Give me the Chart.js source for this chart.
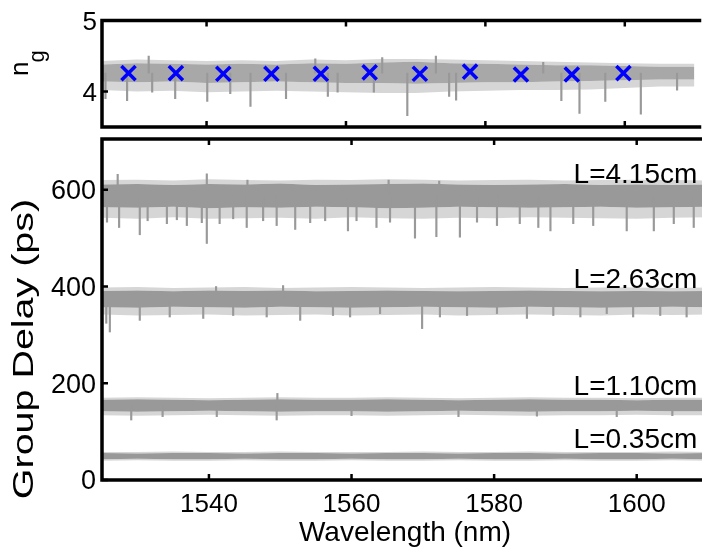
<!DOCTYPE html>
<html>
<head>
<meta charset="utf-8">
<script src="https://cdn.jsdelivr.net/npm/chart.js@4.4.1/dist/chart.umd.min.js"></script>
<style>
  body { margin: 0; width: 702px; height: 550px; overflow: hidden; background: #fff; }
  canvas { position: absolute; left: 0; top: 0; }
</style>
</head>
<body>
<canvas id="ngChart" width="708" height="550"></canvas>
<canvas id="delayChart" width="708" height="550"></canvas>
<script>
// sample wavelengths (nm) for the envelope of each noisy trace
const wavelength = [1525, 1530, 1535, 1540, 1545, 1550, 1555, 1560, 1565, 1570, 1575, 1580, 1585, 1590, 1595, 1600, 1605, 1610];
const xTicks = [1540, 1560, 1580, 1600];
const ngTicks = [4, 5];
const delayTicks = [0, 200, 400, 600];

// group index panel
const ngHigh   = [4.43, 4.45, 4.44, 4.43, 4.44, 4.43, 4.45, 4.44, 4.46, 4.46, 4.45, 4.44, 4.43, 4.42, 4.41, 4.40, 4.39, 4.39];
const ngTop    = [4.38, 4.40, 4.39, 4.38, 4.39, 4.38, 4.40, 4.39, 4.41, 4.42, 4.40, 4.39, 4.38, 4.37, 4.37, 4.36, 4.35, 4.35];
const ngBottom = [4.14, 4.13, 4.14, 4.12, 4.13, 4.14, 4.13, 4.12, 4.12, 4.11, 4.12, 4.13, 4.13, 4.14, 4.15, 4.16, 4.17, 4.17];
const ngLow    = [4.02, 4.00, 4.01, 3.99, 4.00, 4.01, 4.00, 3.99, 3.98, 3.98, 4.00, 4.01, 4.02, 4.02, 4.03, 4.05, 4.07, 4.07];
const ngSpikeWl  = [1525.5, 1528.6, 1531.7, 1532.2, 1535.5, 1540.1, 1543.4, 1546.3, 1551.4, 1555.6, 1557.4, 1558.8, 1564.0, 1565.2, 1568.8, 1572.9, 1574.8, 1575.8, 1588.3, 1590.9, 1593.5, 1597.2, 1602.3, 1607.5];
const ngSpikeTip = [3.90, 3.87, 4.50, 3.99, 3.90, 3.86, 3.97, 3.79, 3.90, 4.46, 3.93, 3.99, 3.99, 4.48, 3.66, 4.50, 3.93, 3.88, 4.41, 3.87, 3.69, 3.86, 3.68, 4.02];
const markerWl = [1528.8, 1535.6, 1542.4, 1549.3, 1556.4, 1563.4, 1570.6, 1577.8, 1585.1, 1592.4, 1599.8];
const markerNg = [4.26, 4.26, 4.25, 4.25, 4.25, 4.27, 4.25, 4.28, 4.24, 4.24, 4.26];

// group delay (ps), one envelope per waveguide length
const d415High   = [620, 621, 619, 622, 620, 619, 621, 620, 622, 621, 619, 620, 621, 619, 620, 621, 620, 619];
const d415Top    = [611, 612, 610, 612, 611, 613, 610, 611, 612, 613, 611, 610, 611, 612, 610, 611, 610, 611];
const d415Bottom = [564, 563, 565, 562, 564, 563, 565, 564, 562, 563, 565, 564, 563, 564, 565, 563, 564, 565];
const d415Low    = [542, 540, 543, 540, 541, 542, 540, 543, 541, 540, 542, 541, 543, 542, 541, 540, 542, 543];
const d415SpikeWl  = [1525.7, 1527.2, 1527.4, 1530.3, 1531.4, 1534.1, 1535.5, 1536.9, 1539.0, 1539.7, 1539.7, 1541.5, 1543.4, 1545.3, 1545.4, 1547.6, 1549.5, 1552.1, 1554.2, 1556.3, 1559.5, 1560.7, 1563.5, 1565.2, 1565.4, 1568.9, 1571.9, 1572.3, 1575.2, 1577.6, 1580.4, 1583.6, 1586.2, 1587.9, 1591.1, 1593.9, 1598.6, 1602.4, 1605.2, 1608.0];
const d415SpikeTip = [533, 632, 522, 507, 536, 530, 538, 526, 532, 489, 633, 530, 540, 522, 620, 536, 526, 518, 532, 536, 515, 536, 522, 620, 533, 500, 503, 618, 502, 533, 526, 530, 522, 515, 530, 526, 515, 515, 530, 522];

const d263High   = [398, 399, 397, 398, 399, 397, 398, 399, 398, 397, 398, 399, 398, 397, 398, 398, 397, 398];
const d263Top    = [391, 392, 390, 392, 391, 392, 390, 391, 392, 391, 390, 391, 392, 391, 390, 391, 390, 391];
const d263Bottom = [357, 356, 358, 357, 356, 358, 357, 356, 357, 358, 357, 356, 358, 357, 356, 357, 358, 357];
const d263Low    = [342, 340, 341, 342, 340, 341, 342, 340, 341, 342, 340, 341, 342, 341, 340, 342, 341, 342];
const d263SpikeWl  = [1525.6, 1526.1, 1530.3, 1534.5, 1539.2, 1541.0, 1543.4, 1548.1, 1550.4, 1552.8, 1557.4, 1559.8, 1564.0, 1569.9, 1572.4, 1576.2, 1580.4, 1584.6, 1588.3, 1592.1, 1595.8, 1599.5, 1603.3, 1607.0];
const d263SpikeTip = [324, 306, 330, 337, 334, 400, 340, 337, 402, 330, 340, 337, 344, 313, 337, 340, 344, 334, 340, 337, 344, 337, 340, 337];

const d110High   = [170, 171, 170, 169, 170, 171, 170, 170, 171, 170, 169, 170, 171, 170, 170, 169, 170, 170];
const d110Top    = [166, 167, 166, 165, 166, 167, 166, 166, 167, 166, 165, 166, 167, 166, 166, 165, 166, 166];
const d110Bottom = [142, 141, 142, 143, 142, 141, 142, 142, 141, 142, 143, 142, 141, 142, 142, 143, 142, 142];
const d110Low    = [134, 133, 134, 135, 134, 133, 134, 134, 133, 134, 135, 134, 133, 134, 134, 135, 134, 134];
const d110SpikeWl  = [1529.1, 1533.5, 1541.1, 1549.5, 1549.6, 1560.0, 1575.0, 1586.0, 1597.2, 1605.0];
const d110SpikeTip = [124, 131, 131, 124, 179, 133, 131, 132, 131, 133];

const d035High   = [58, 58, 59, 58, 58, 59, 58, 58, 58, 59, 58, 58, 59, 58, 58, 58, 59, 58];
const d035Top    = [56, 55, 56, 56, 55, 56, 56, 55, 56, 56, 55, 56, 56, 55, 56, 56, 55, 56];
const d035Bottom = [43, 44, 43, 43, 44, 43, 43, 44, 43, 43, 44, 43, 43, 44, 43, 43, 44, 43];
const d035Low    = [40, 41, 40, 40, 41, 40, 40, 41, 40, 40, 41, 40, 40, 41, 40, 40, 41, 40];

const traceLabels = ['L=4.15cm', 'L=2.63cm', 'L=1.10cm', 'L=0.35cm'];
const labelAt = [614, 396, 175, 66]; // baseline, in ps

const FONT = '"Liberation Sans", Arial, Helvetica, sans-serif';
const GREY = '#999999';
const FRINGE = 'rgba(153,153,153,0.4)';

function pts(xs, ys) {
  return xs.map((x, i) => ({ x: x, y: ys[i] }));
}

function band(top, bottom, color) {
  return [
    { type: 'line', data: pts(wavelength, top), borderColor: 'transparent', borderWidth: 0, pointRadius: 0, fill: '+1', backgroundColor: color, order: 3 },
    { type: 'line', data: pts(wavelength, bottom), borderColor: 'transparent', borderWidth: 0, pointRadius: 0, fill: false, order: 3 }
  ];
}

function spikes(xs, tips, base) {
  return {
    type: 'bar',
    data: xs.map((x, i) => ({ x: x, y: [tips[i], base] })),
    backgroundColor: GREY,
    barThickness: 1.5,
    grouped: false,
    order: 2
  };
}

function trace(high, top, bottom, low, coreColor) {
  return [].concat(band(high, top, FRINGE), band(top, bottom, coreColor), band(bottom, low, FRINGE));
}

// box frame with inward ticks, like the original figure
const framePlugin = {
  id: 'frame',
  afterDatasetsDraw(chart, args, opts) {
    const ctx = chart.ctx;
    const a = chart.chartArea;
    const x = chart.scales.x, y = chart.scales.y;
    ctx.save();
    ctx.strokeStyle = '#000';
    ctx.lineWidth = 3.5;
    ctx.lineCap = 'square';
    ctx.beginPath();
    ctx.moveTo(a.right + 5, a.top);
    ctx.lineTo(a.left, a.top);
    ctx.lineTo(a.left, a.bottom);
    ctx.lineTo(a.right + 5, a.bottom);
    ctx.stroke();
    ctx.lineWidth = 2.5;
    ctx.lineCap = 'butt';
    ctx.beginPath();
    xTicks.forEach(v => {
      const px = x.getPixelForValue(v);
      ctx.moveTo(px, a.top); ctx.lineTo(px, a.top + 6);
      ctx.moveTo(px, a.bottom); ctx.lineTo(px, a.bottom - 6);
    });
    opts.yTicks.forEach(v => {
      const py = y.getPixelForValue(v);
      ctx.moveTo(a.left, py); ctx.lineTo(a.left + 6, py);
    });
    ctx.stroke();
    ctx.restore();
  }
};

const ngTitlePlugin = {
  id: 'ngTitle',
  afterDraw(chart) {
    const ctx = chart.ctx;
    ctx.save();
    ctx.translate(28, 76);
    ctx.rotate(-Math.PI / 2);
    ctx.fillStyle = '#000';
    ctx.textAlign = 'left';
    ctx.textBaseline = 'alphabetic';
    ctx.font = '26px ' + FONT;
    ctx.fillText('n', 0, 0);
    const w = ctx.measureText('n').width;
    ctx.font = '22px ' + FONT;
    ctx.fillText('g', w - 1, 16);
    ctx.restore();
  }
};

const delayTextPlugin = {
  id: 'delayText',
  afterDraw(chart) {
    const ctx = chart.ctx;
    const a = chart.chartArea;
    const x = chart.scales.x, y = chart.scales.y;
    ctx.save();
    ctx.fillStyle = '#000';
    ctx.textBaseline = 'alphabetic';
    ctx.font = '28px ' + FONT;
    ctx.textAlign = 'right';
    traceLabels.forEach((t, i) => {
      ctx.fillText(t, x.getPixelForValue(1608.5), y.getPixelForValue(labelAt[i]));
    });
    ctx.textAlign = 'center';
    ctx.fillText('Wavelength (nm)', (a.left + a.right) / 2, 541);
    ctx.translate(33, 349);
    ctx.rotate(-Math.PI / 2);
    ctx.scale(1.36, 1);
    ctx.font = '29px ' + FONT;
    ctx.fillText('Group Delay (ps)', 0, 0);
    ctx.restore();
  }
};

function yAxis(min, max, ticks, size, pad) {
  return {
    type: 'linear', min: min, max: max,
    afterBuildTicks: s => { s.ticks = ticks.map(v => ({ value: v })); },
    afterFit: s => { s.width = 102; },
    grid: { display: false, drawTicks: false },
    border: { display: false },
    ticks: { color: '#000', font: { family: FONT, size: size }, padding: pad, labelOffset: 2, callback: v => String(v) }
  };
}

Chart.defaults.animation = false;

new Chart(document.getElementById('ngChart'), {
  type: 'scatter',
  data: {
    datasets: [].concat(
      trace(ngHigh, ngTop, ngBottom, ngLow, 'rgba(153,153,153,0.85)'),
      [spikes(ngSpikeWl, ngSpikeTip, 4.26)],
      [{ type: 'scatter', data: pts(markerWl, markerNg), pointStyle: 'crossRot', pointRadius: 10, borderWidth: 3.5, borderColor: '#0000ff', backgroundColor: '#0000ff', order: 0 }]
    )
  },
  options: {
    responsive: false,
    layout: { padding: { top: 14.5, bottom: 423, left: 0, right: 0 } },
    plugins: { legend: { display: false }, tooltip: { enabled: false }, frame: { yTicks: ngTicks } },
    scales: {
      x: { type: 'linear', min: 1525, max: 1610, offset: false, display: false },
      y: yAxis(3.5, 5, ngTicks, 26, 5)
    }
  },
  plugins: [framePlugin, ngTitlePlugin]
});

new Chart(document.getElementById('delayChart'), {
  type: 'scatter',
  data: {
    datasets: [].concat(
      trace(d415High, d415Top, d415Bottom, d415Low, GREY),
      trace(d263High, d263Top, d263Bottom, d263Low, GREY),
      trace(d110High, d110Top, d110Bottom, d110Low, GREY),
      trace(d035High, d035Top, d035Bottom, d035Low, GREY),
      [spikes(d415SpikeWl, d415SpikeTip, 588), spikes(d263SpikeWl, d263SpikeTip, 374), spikes(d110SpikeWl, d110SpikeTip, 154)]
    )
  },
  options: {
    responsive: false,
    layout: { padding: { top: 139, bottom: 0, left: 0, right: 0 } },
    plugins: { legend: { display: false }, tooltip: { enabled: false }, frame: { yTicks: delayTicks } },
    scales: {
      x: {
        type: 'linear', min: 1525, max: 1610, offset: false,
        afterBuildTicks: s => { s.ticks = xTicks.map(v => ({ value: v })); },
        afterFit: s => { s.height = 70; },
        grid: { display: false, drawTicks: false },
        border: { display: false },
        ticks: { color: '#000', font: { family: FONT, size: 26 }, padding: 9, maxRotation: 0, autoSkip: false, callback: v => String(v) }
      },
      y: yAxis(0, 705, delayTicks, 27, 6)
    }
  },
  plugins: [framePlugin, delayTextPlugin]
});
</script>
</body>
</html>
